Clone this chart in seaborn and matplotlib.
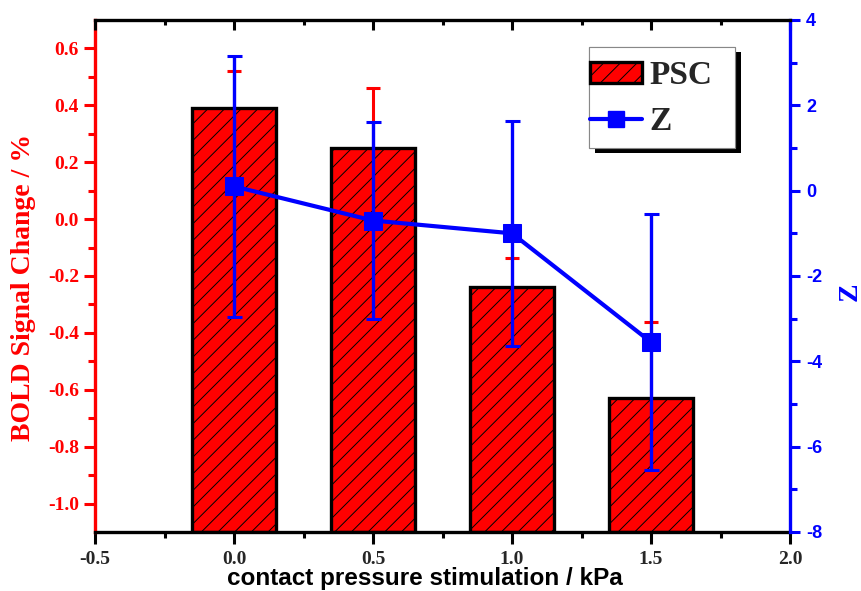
import numpy as np
import matplotlib
matplotlib.use("Agg")
import matplotlib.pyplot as plt
import matplotlib.patheffects as pe
from matplotlib.patches import Patch, Rectangle
from matplotlib.lines import Line2D
import seaborn as sns

# ---- data ----
pressure = [0.0, 0.5, 1.0, 1.5]
psc = [0.39, 0.25, -0.24, -0.63]
psc_err = [0.13, 0.21, 0.105, 0.27]
z_vals = [0.1, -0.7, -1.0, -3.55]
z_err = [3.05, 2.3, 2.63, 3.0]

x_ticks = [-0.5, 0.0, 0.5, 1.0, 1.5, 2.0]
x_ticklabels = ["-0.5", "0.0", "0.5", "1.0", "1.5", "2.0"]
left_ticks = [-1.0, -0.8, -0.6, -0.4, -0.2, 0.0, 0.2, 0.4, 0.6]
left_ticklabels = ["-1.0", "-0.8", "-0.6", "-0.4", "-0.2", "0.0", "0.2", "0.4", "0.6"]
right_ticks = [-8, -6, -4, -2, 0, 2, 4]
right_ticklabels = ["-8", "-6", "-4", "-2", "0", "2", "4"]
legend_labels = ["PSC", "Z"]

sns.set_theme(style="ticks")
plt.rcParams["font.family"] = ["Liberation Serif", "DejaVu Sans"]
plt.rcParams["axes.unicode_minus"] = False
plt.rcParams["hatch.linewidth"] = 0.7

RED = "#FF0000"
BLUE = "#0000FF"
SERIF = "Liberation Serif"
SANS = "Liberation Sans"

W, H = 861, 591
fig = plt.figure(figsize=(W / 100, H / 100), dpi=100)
fig.patch.set_facecolor("white")
ax = fig.add_axes([95 / W, 1 - 532 / H, 695 / W, 512 / H])
ax.set_facecolor("white")

y_lo, y_hi = -1.1, 0.7

# red error bars (behind the bars)
ax.errorbar(pressure, psc, yerr=psc_err, fmt="none", ecolor=RED,
            elinewidth=2.2, capsize=4.7, capthick=2.2, zorder=1)
# bars rising from the bottom of the axis
ax.bar(pressure, np.array(psc) - y_lo, bottom=y_lo, width=0.3,
       color=RED, edgecolor="black", linewidth=2.4, hatch="//", zorder=2)

ax.set_xlim(-0.5, 2.0)
ax.set_ylim(y_lo, y_hi)
ax.set_xticks(x_ticks, x_ticklabels, fontsize=14, fontweight="bold", fontfamily=SERIF)
ax.set_xticks(np.arange(-0.25, 2.0, 0.5), minor=True)
ax.set_yticks(left_ticks, left_ticklabels, fontsize=14, fontweight="bold",
              fontfamily=SERIF, color=RED)
ax.set_yticks(np.arange(-0.9, 0.7, 0.2), minor=True)
ax.tick_params(axis="x", which="major", direction="out", length=8.5, width=2.2,
               color="black", pad=5, top=False, bottom=True)
ax.tick_params(axis="x", which="minor", direction="out", length=4.5, width=2.2,
               color="black", top=False, bottom=True)
ax.tick_params(axis="y", which="major", direction="out", length=8, width=2.2,
               color=RED, pad=3.5, labelcolor=RED)
ax.tick_params(axis="y", which="minor", direction="out", length=5, width=2.2, color=RED)
ax.spines["left"].set_color(RED)
ax.spines["bottom"].set_color("black")
ax.spines["top"].set_visible(False)
ax.spines["right"].set_visible(False)
for s in ["left", "bottom"]:
    ax.spines[s].set_linewidth(2.4)

# Z on the right axis
ax2 = ax.twinx()
sns.lineplot(x=pressure, y=z_vals, ax=ax2, color=BLUE, linewidth=3,
             marker="s", markersize=13.5, markeredgecolor=BLUE, zorder=5)
ax2.errorbar(pressure, z_vals, yerr=z_err, fmt="none", ecolor=BLUE,
             elinewidth=2.4, capsize=5.4, capthick=2.2, zorder=4)
ax2.set_ylim(-8, 4)
ax2.set_yticks(right_ticks, right_ticklabels, fontsize=13, fontweight="bold",
               fontfamily=SANS, color=BLUE)
ax2.set_yticks(np.arange(-7, 4, 2), minor=True)
ax2.tick_params(axis="y", which="major", direction="out", length=7.5, width=2.2,
                color=BLUE, pad=4, labelcolor=BLUE)
ax2.tick_params(axis="y", which="minor", direction="out", length=5, width=2.2, color=BLUE)
ax2.spines["right"].set_color(BLUE)
ax2.spines["right"].set_linewidth(2.4)
ax2.spines["left"].set_visible(False)
ax2.spines["bottom"].set_visible(False)
ax2.spines["top"].set_color("black")
ax2.spines["top"].set_linewidth(2.4)
# top ticks pointing inward
ax2.xaxis.set_visible(True)
ax2.set_xlim(-0.5, 2.0)
ax2.set_xticks(x_ticks)
ax2.set_xticks(np.arange(-0.25, 2.0, 0.5), minor=True)
ax2.tick_params(axis="x", which="both", top=True, bottom=False,
                labeltop=False, labelbottom=False, direction="in",
                width=2.2, color="black")
ax2.tick_params(axis="x", which="major", length=7)
ax2.tick_params(axis="x", which="minor", length=3.5)
ax2.set_xlabel("")
ax2.set_ylabel("")
if ax2.get_legend() is not None:
    ax2.get_legend().remove()

# legend frame with a solid black drop shadow
box = Rectangle((589 / W, 1 - 148 / H), (735 - 589) / W, (148 - 47) / H,
                transform=fig.transFigure, facecolor="white", edgecolor="#888888",
                linewidth=0.8, zorder=3)
box.set_path_effects([pe.withSimplePatchShadow(offset=(4.2, -3.6),
                                               shadow_rgbFace="black", alpha=1),
                      pe.Normal()])
fig.add_artist(box)

handles = [
    Patch(facecolor=RED, edgecolor="black", hatch="//", linewidth=2.4),
    Line2D([0], [0], color=BLUE, linewidth=3, marker="s", markersize=12,
           markeredgecolor=BLUE),
]
leg = fig.legend(handles, legend_labels, loc="upper left",
                 bbox_to_anchor=(590 / W, 1 - 60.5 / H), bbox_transform=fig.transFigure,
                 borderaxespad=0, borderpad=0, frameon=False,
                 prop={"family": SERIF, "weight": "bold", "size": 24},
                 handlelength=1.56, handleheight=0.57, handletextpad=0.22,
                 labelspacing=0.43)
leg.set_zorder(6)

# axis labels
fig.text(24 / W, 1 - 287 / H, "BOLD Signal Change / %", rotation=90,
         ha="center", va="center", color=RED, fontsize=20, fontweight="bold",
         fontfamily=SERIF)
fig.text(850 / W, 1 - 292 / H, "Z", rotation=90, ha="center", va="center",
         color=BLUE, fontsize=20, fontweight="bold", fontfamily=SERIF)
fig.text(425 / W, 1 - 579 / H, "contact pressure stimulation / kPa",
         ha="center", va="center", color="black", fontsize=17.5,
         fontweight="bold", fontfamily=SANS)
ax.set_xlabel("")
ax.set_ylabel("")

fig.savefig("out.png", dpi=100, facecolor="white")
